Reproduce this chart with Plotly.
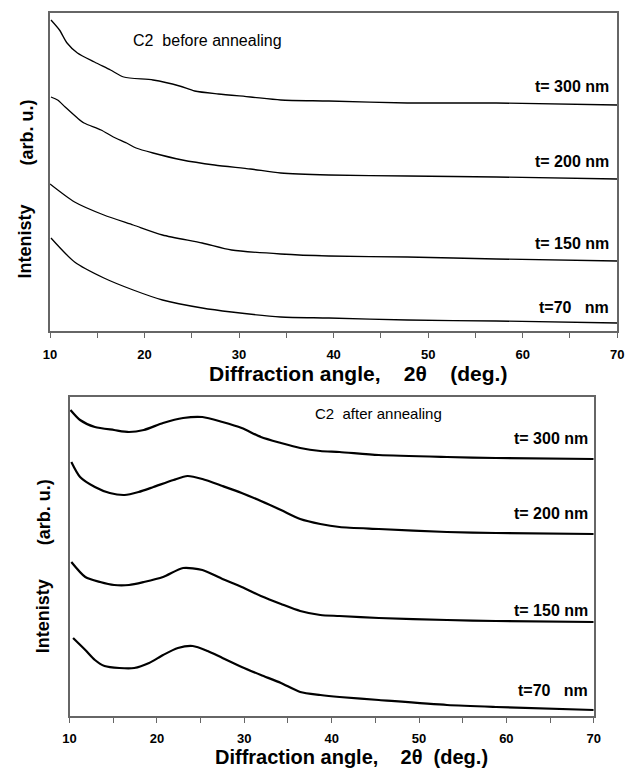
import plotly.graph_objects as go

W, H = 633, 769

# ---------------- data: before annealing (top panel) ----------------
top_x_300 = [10.1, 11.0, 11.8, 12.9, 14.7, 16.4, 17.8, 20.9, 23.7, 25.3, 27.8, 31.2, 34.4, 39.5, 47.8, 57.2, 70.0]
top_y_300 = [311, 301, 288, 278, 269, 261, 254, 251, 245, 240, 237, 234, 231, 230, 228, 228, 226]

top_x_200 = [10.1, 10.8, 11.6, 12.9, 13.6, 15.4, 16.7, 18.1, 19.1, 20.9, 24.0, 27.4, 31.2, 34.4, 39.5, 47.8, 57.2, 70.0]
top_y_200 = [234, 231, 224, 213, 208, 201, 194, 188, 183, 178, 171, 166, 162, 158, 156, 155, 154, 152]

top_x_150 = [10.0, 12.6, 15.7, 18.8, 21.9, 26.1, 29.2, 34.4, 39.5, 47.8, 57.2, 70.0]
top_y_150 = [147, 129, 116, 106, 96, 88, 81, 77, 75, 74, 72, 70]

top_x_70 = [10.1, 12.6, 15.7, 18.8, 21.9, 26.1, 29.2, 34.4, 39.5, 47.8, 57.2, 70.0]
top_y_70 = [93, 69, 53, 41, 31, 23, 19, 14, 13, 11, 10, 8]

# ---------------- data: after annealing (bottom panel) ----------------
bot_x_300 = [10.1, 11.2, 12.9, 15.1, 16.8, 18.5, 20.7, 23.0, 25.2, 27.5, 29.7, 31.9, 34.2, 36.4, 38.7, 40.9, 45.4, 53.2, 58.8, 70.0]
bot_y_300 = [306, 296, 289, 286, 284, 286, 293, 298, 299, 294, 288, 279, 273, 268, 265, 264, 261, 259, 258, 257]

bot_x_200 = [10.2, 11.2, 12.9, 14.6, 16.3, 17.9, 19.6, 21.9, 23.5, 25.2, 27.5, 29.7, 31.9, 34.2, 36.4, 38.7, 40.9, 45.4, 53.2, 58.8, 70.0]
bot_y_200 = [254, 239, 229, 223, 221, 224, 229, 236, 240, 237, 230, 223, 215, 206, 197, 192, 189, 187, 184, 183, 182]

bot_x_150 = [10.2, 11.8, 13.5, 15.1, 16.8, 18.5, 20.7, 23.0, 25.2, 27.5, 29.7, 31.9, 34.2, 36.4, 38.7, 40.9, 45.4, 53.2, 58.8, 70.0]
bot_y_150 = [154, 139, 134, 131, 131, 134, 139, 148, 146, 137, 129, 120, 112, 105, 101, 100, 98, 96, 95, 94]

bot_x_70 = [10.4, 11.8, 12.9, 14.0, 15.7, 17.4, 19.1, 20.7, 22.4, 24.1, 25.8, 27.5, 29.7, 31.9, 34.2, 36.4, 38.7, 40.9, 45.4, 53.2, 58.8, 70.0]
bot_y_70 = [78, 66, 56, 50, 48, 48, 53, 61, 68, 70, 65, 58, 49, 41, 33, 24, 21, 19, 16, 11, 9, 6]

xtick_vals = [10, 15, 20, 25, 30, 35, 40, 45, 50, 55, 60, 65, 70]
xtick_text = ["10", "", "20", "", "30", "", "40", "", "50", "", "60", "", "70"]

top_labels = ["t= 300 nm", "t= 200 nm", "t= 150 nm", "t=70\u00a0\u00a0\u00a0nm"]
bot_labels = ["t= 300 nm", "t= 200 nm", "t= 150 nm", "t=70\u00a0\u00a0\u00a0nm"]

NB = "\u00a0"
top_xtitle = "Diffraction angle," + NB * 4 + "2\u03b8" + NB * 4 + "(deg.)"
bot_xtitle = "Diffraction angle," + NB * 4 + "2\u03b8" + NB * 2 + "(deg.)"

FONT = "Liberation Sans, Arial, sans-serif"

fig = go.Figure()

for xs, ys in [(top_x_300, top_y_300), (top_x_200, top_y_200), (top_x_150, top_y_150), (top_x_70, top_y_70)]:
    fig.add_trace(go.Scatter(x=xs, y=ys, mode="lines",
                             line=dict(color="black", width=1.3, shape="spline", smoothing=0.7),
                             xaxis="x", yaxis="y", showlegend=False, hoverinfo="skip"))
for xs, ys in [(bot_x_300, bot_y_300), (bot_x_200, bot_y_200), (bot_x_150, bot_y_150), (bot_x_70, bot_y_70)]:
    fig.add_trace(go.Scatter(x=xs, y=ys, mode="lines",
                             line=dict(color="black", width=2.2, shape="spline", smoothing=0.7),
                             xaxis="x2", yaxis="y2", showlegend=False, hoverinfo="skip"))


def px(x, y):
    return x / W, 1 - y / H


axis_common = dict(showgrid=False, zeroline=False, showline=True, mirror=True,
                   linecolor="#666666", linewidth=1.5)

fig.update_layout(
    width=W, height=H,
    margin=dict(l=0, r=0, t=0, b=0),
    paper_bgcolor="white", plot_bgcolor="white",
    font=dict(family=FONT, color="black"),
    xaxis=dict(domain=[44 / W, 624 / W], range=[10, 70], tickvals=xtick_vals, ticktext=xtick_text,
               ticks="outside", ticklen=5, tickcolor="#666666", ticklabelstandoff=6,
               tickfont=dict(size=13, family=FONT, weight="bold"), anchor="y", **axis_common),
    yaxis=dict(domain=[1 - 331 / H, 1 - 13 / H], range=[0, 318], showticklabels=False, ticks="",
               anchor="x", **axis_common),
    xaxis2=dict(domain=[64 / W, 600 / W], range=[10, 70], tickvals=xtick_vals, ticktext=xtick_text,
                ticks="outside", ticklen=5, tickcolor="#666666", ticklabelstandoff=5,
                tickfont=dict(size=13, family=FONT, weight="bold"), anchor="y2", **axis_common),
    yaxis2=dict(domain=[1 - 716 / H, 1 - 397 / H], range=[0, 319], showticklabels=False, ticks="",
                anchor="x2", **axis_common),
)

ann = []


def add_text(text, x, y, size, bold=False, xanchor="center", angle=0):
    xp, yp = px(x, y)
    t = "<b>" + text + "</b>" if bold else text
    ann.append(dict(text=t, x=xp, y=yp, xref="paper", yref="paper", xanchor=xanchor, yanchor="middle",
                    showarrow=False, textangle=angle, font=dict(size=size, family=FONT, color="black")))


# top panel texts
add_text("C2\u00a0\u00a0before annealing", 127, 41, 16, xanchor="left")
for lab, yy in zip(top_labels, [87, 162, 243, 307]):
    add_text(lab, 618, yy, 16, bold=True, xanchor="right")
add_text(top_xtitle, 359, 374, 21, bold=True)
add_text("(arb. u.)", 20, 133, 18, bold=True, angle=-90)
add_text("Intenisty", 18, 242, 18, bold=True, angle=-90)

# bottom panel texts
add_text("C2\u00a0\u00a0after annealing", 313, 413, 15, xanchor="left")
for lab, yy in zip(bot_labels, [438, 513, 610, 690]):
    add_text(lab, 596, yy, 16, bold=True, xanchor="right")
add_text(bot_xtitle, 352, 757, 20, bold=True)
add_text("(arb. u.)", 38, 512, 18, bold=True, angle=-90)
add_text("Intenisty", 37, 616, 18, bold=True, angle=-90)

fig.update_layout(annotations=ann)

fig.write_html("out.html")
